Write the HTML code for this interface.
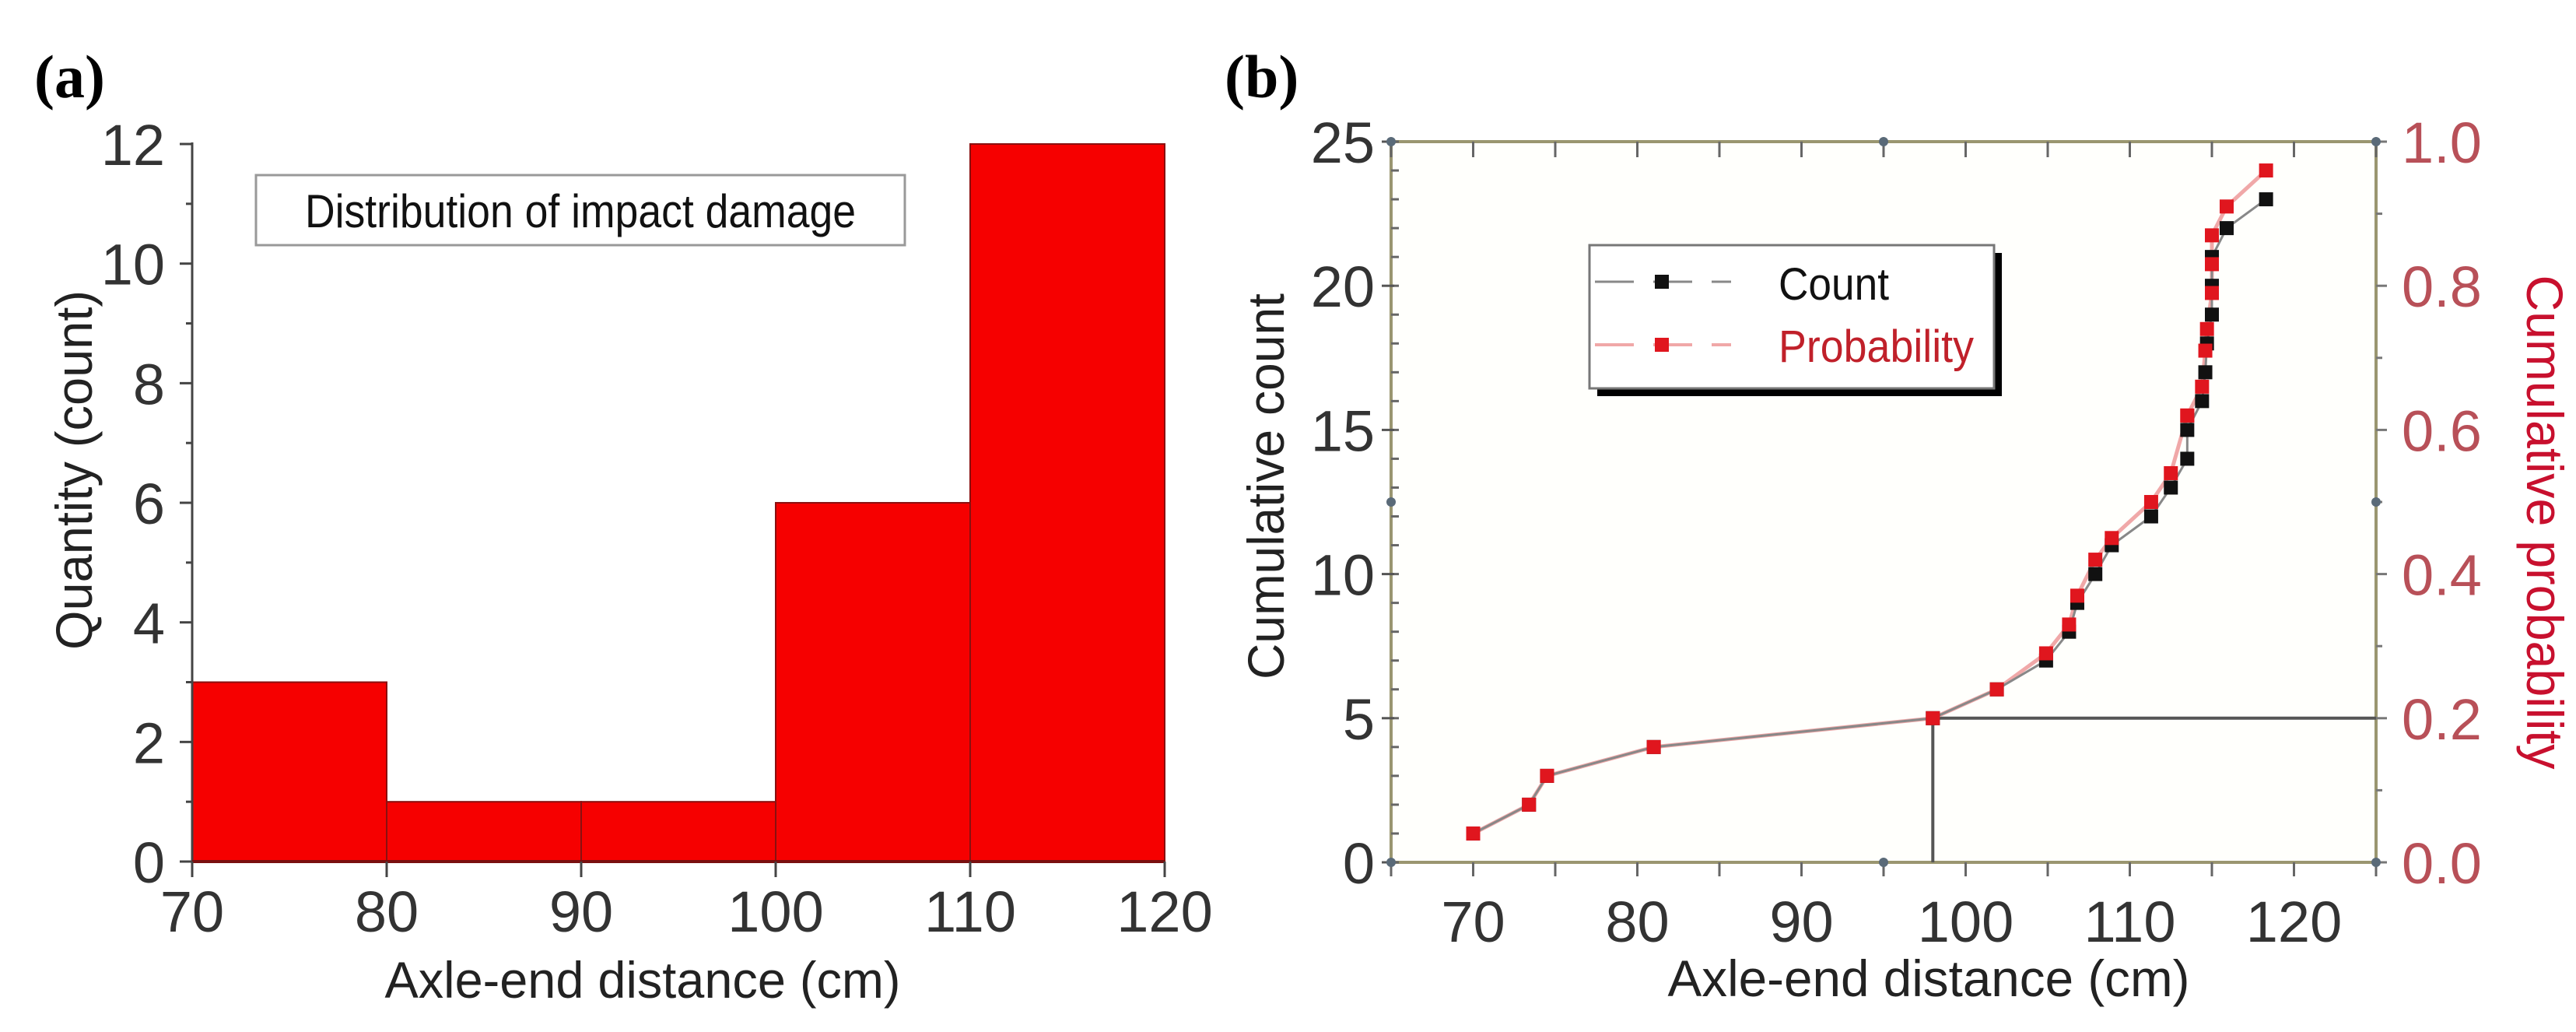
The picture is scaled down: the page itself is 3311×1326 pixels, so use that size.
<!DOCTYPE html>
<html><head><meta charset="utf-8"><style>
html,body{margin:0;padding:0;background:#fff;}
svg{display:block;}
text{font-family:"Liberation Sans",Arial,sans-serif;}
</style></head><body>
<svg id="fig" width="3311" height="1326" viewBox="0 0 3311 1326" xmlns="http://www.w3.org/2000/svg">
<text x="44" y="125" style="font-family:'Liberation Serif',serif" font-weight="bold" font-size="78">(a)</text>
<text x="1574" y="125" style="font-family:'Liberation Serif',serif" font-weight="bold" font-size="78">(b)</text>
<g id="ga"></g>
<g id="gb"></g>
</svg>
<script>
// ---------- Chart A data ----------
const binStarts = [70, 80, 90, 100, 110];
const binCounts = [3, 1, 1, 6, 12];
const aXTicks = [70, 80, 90, 100, 110, 120];
const aYTicks = [0, 2, 4, 6, 8, 10, 12];
// ---------- Chart B data ----------
const distances = [70.0, 73.4, 74.5, 81.0, 98.0, 101.9, 104.9, 106.3, 106.8, 107.9, 108.9, 111.3, 112.5, 113.5, 113.5, 114.4, 114.6, 114.7, 115.0, 115.0, 115.0, 115.9, 118.3];
const cumCounts = [1, 2, 3, 4, 5, 6, 7, 8, 9, 10, 11, 12, 13, 14, 15, 16, 17, 18, 19, 20, 21, 22, 23];
const cumProb = [0.04, 0.08, 0.12, 0.16, 0.20, 0.24, 0.29, 0.33, 0.37, 0.42, 0.45, 0.50, 0.54, 0.62, 0.62, 0.66, 0.71, 0.74, 0.79, 0.83, 0.87, 0.91, 0.96];
const bXTicks = [70, 80, 90, 100, 110, 120];
const bYTicks = [0, 5, 10, 15, 20, 25];
const bRTicks = ["0.0", "0.2", "0.4", "0.6", "0.8", "1.0"];
const refX = 98, refY = 5;

const NS = "http://www.w3.org/2000/svg";
function mk(parent, tag, attrs, txt) {
  const e = document.createElementNS(NS, tag);
  for (const k in attrs) e.setAttribute(k, attrs[k]);
  if (txt !== undefined) e.textContent = txt;
  parent.appendChild(e);
  return e;
}

// ===== Chart A =====
const ga = document.getElementById('ga');
const axX = v => 247 + (v - 70) * 25.0;
const ayY = v => 1107 - (v) * 76.83;
for (let i = 0; i < binStarts.length; i++) {
  const r = mk(ga, 'rect', {x: axX(binStarts[i]), y: ayY(binCounts[i]), width: axX(binStarts[i] + 10) - axX(binStarts[i]), height: ayY(0) - ayY(binCounts[i]), fill: '#f60000', stroke: '#8a1010', 'stroke-width': 2});
  
  
}
mk(ga, 'line', {x1: 247, y1: ayY(12) - 2, x2: 247, y2: ayY(0), stroke: '#444', 'stroke-width': 3});
mk(ga, 'line', {x1: 247, y1: ayY(0), x2: axX(120), y2: ayY(0), stroke: '#7a1010', 'stroke-width': 4});
for (let v = 0; v <= 12; v++) {
  mk(ga, 'line', {x1: 247, y1: ayY(v), x2: v % 2 === 0 ? 231 : 239, y2: ayY(v), stroke: '#444', 'stroke-width': 3});
}
aYTicks.forEach(v => {
  const t = mk(ga, 'text', {x: 212, y: ayY(v) + 27, 'text-anchor': 'end', 'font-size': 74, fill: '#333'}, v);
  
  
});
aXTicks.forEach(v => {
  mk(ga, 'line', {x1: axX(v), y1: ayY(0), x2: axX(v), y2: ayY(0) + 20, stroke: '#444', 'stroke-width': 3});
  const t = mk(ga, 'text', {x: axX(v), y: 1197, 'text-anchor': 'middle', 'font-size': 74, fill: '#333'}, v);
  
  
});
let t;
t = mk(ga, 'text', {x: 826, y: 1282, 'text-anchor': 'middle', 'font-size': 66, fill: '#222', textLength: 663, lengthAdjust: 'spacingAndGlyphs'}, 'Axle-end distance (cm)');


t = mk(ga, 'text', {x: 0, y: 0, transform: 'translate(118,604) rotate(-90)', 'text-anchor': 'middle', 'font-size': 66, fill: '#222', textLength: 462, lengthAdjust: 'spacingAndGlyphs'}, 'Quantity (count)');


const lb = mk(ga, 'rect', {x: 329, y: 225, width: 834, height: 90, fill: '#fff', stroke: '#999', 'stroke-width': 3});


t = mk(ga, 'text', {x: 746, y: 292, 'text-anchor': 'middle', 'font-size': 60, fill: '#111', textLength: 708, lengthAdjust: 'spacingAndGlyphs'}, 'Distribution of impact damage');



// ===== Chart B =====
const gb = document.getElementById('gb');
const bX = v => 1788 + (v - 65) * 21.1;
const bY = v => 1108 - v * 37.04;
const bYP = p => 1108 - p * 926;
const L = 1788, R = 3054, T = 182, B = 1108;
mk(gb, 'rect', {x: L, y: T, width: R - L, height: B - T, fill: '#fffffc', stroke: '#9a9670', 'stroke-width': 4});
for (let v = 0; v <= 25; v++) mk(gb, 'line', {x1: L, y1: bY(v), x2: L + 10, y2: bY(v), stroke: '#666', 'stroke-width': 3});
for (let v = 0; v <= 25; v += 5) mk(gb, 'line', {x1: L - 12, y1: bY(v), x2: L + 4, y2: bY(v), stroke: '#555', 'stroke-width': 3});
for (let v = 65; v <= 125; v += 5) {
  mk(gb, 'line', {x1: bX(v), y1: T, x2: bX(v), y2: T + 20, stroke: '#666', 'stroke-width': 3});
  mk(gb, 'line', {x1: bX(v), y1: B, x2: bX(v), y2: B + 18, stroke: '#666', 'stroke-width': 3});
}
for (let p = 0; p <= 10; p++) mk(gb, 'line', {x1: R, y1: bYP(p / 10), x2: R + (p % 2 === 0 ? 14 : 8), y2: bYP(p / 10), stroke: '#777', 'stroke-width': 3});
[[L, T], [R, T], [L, B], [R, B], [bX(95), T], [bX(95), B], [L, bY(12.5)], [R, bY(12.5)]].forEach(p => mk(gb, 'circle', {cx: p[0], cy: p[1], r: 6, fill: '#5a6a78'}));
bYTicks.forEach(v => {
  const e = mk(gb, 'text', {x: 1767, y: bY(v) + 27, 'text-anchor': 'end', 'font-size': 74, fill: '#333'}, v);
  
  
});
bRTicks.forEach((s, i) => {
  const e = mk(gb, 'text', {x: 3087, y: bYP(i * 0.2) + 27, 'font-size': 74, fill: '#b85058'}, s);
  
  
});
bXTicks.forEach(v => {
  const e = mk(gb, 'text', {x: bX(v), y: 1210, 'text-anchor': 'middle', 'font-size': 74, fill: '#333'}, v);
  
  
});
mk(gb, 'line', {x1: bX(refX), y1: bY(refY), x2: R, y2: bY(refY), stroke: '#555', 'stroke-width': 4});
mk(gb, 'line', {x1: bX(refX), y1: bY(refY), x2: bX(refX), y2: B, stroke: '#555', 'stroke-width': 4});
mk(gb, 'polyline', {points: distances.map((d, i) => bX(d) + ',' + bYP(cumProb[i])).join(' '), fill: 'none', stroke: '#f0a8a8', 'stroke-width': 5});
mk(gb, 'polyline', {points: distances.map((d, i) => bX(d) + ',' + bY(cumCounts[i])).join(' '), fill: 'none', stroke: '#888', 'stroke-width': 3});
distances.forEach((d, i) => {
  const m = mk(gb, 'rect', {x: bX(d) - 9, y: bY(cumCounts[i]) - 9, width: 18, height: 18, fill: '#111'});
  
  
});
distances.forEach((d, i) => {
  const m = mk(gb, 'rect', {x: bX(d) - 9, y: bYP(cumProb[i]) - 9, width: 18, height: 18, fill: '#e0161e'});
  
  
});
mk(gb, 'rect', {x: 2053, y: 325, width: 520, height: 184, fill: '#000'});
const lg = mk(gb, 'rect', {x: 2043, y: 315, width: 520, height: 184, fill: '#fff', stroke: '#777', 'stroke-width': 3});


mk(gb, 'line', {x1: 2050, y1: 362, x2: 2225, y2: 362, stroke: '#888', 'stroke-width': 3, 'stroke-dasharray': '50,25'});
mk(gb, 'rect', {x: 2127, y: 353, width: 18, height: 18, fill: '#111'});
mk(gb, 'line', {x1: 2050, y1: 443, x2: 2225, y2: 443, stroke: '#f0a8a8', 'stroke-width': 4, 'stroke-dasharray': '50,25'});
mk(gb, 'rect', {x: 2127, y: 434, width: 18, height: 18, fill: '#e0161e'});
t = mk(gb, 'text', {x: 2286, y: 385, 'font-size': 58, fill: '#111', textLength: 142, lengthAdjust: 'spacingAndGlyphs'}, 'Count');


t = mk(gb, 'text', {x: 2286, y: 465, 'font-size': 58, fill: '#c0202a', textLength: 251, lengthAdjust: 'spacingAndGlyphs'}, 'Probability');


t = mk(gb, 'text', {x: 2479, y: 1280, 'text-anchor': 'middle', 'font-size': 66, fill: '#222', textLength: 671, lengthAdjust: 'spacingAndGlyphs'}, 'Axle-end distance (cm)');


t = mk(gb, 'text', {x: 0, y: 0, transform: 'translate(1650,625) rotate(-90)', 'text-anchor': 'middle', 'font-size': 66, fill: '#222', textLength: 496, lengthAdjust: 'spacingAndGlyphs'}, 'Cumulative count');


t = mk(gb, 'text', {x: 0, y: 0, transform: 'translate(3248,671) rotate(90)', 'text-anchor': 'middle', 'font-size': 66, fill: '#c8102e', textLength: 635, lengthAdjust: 'spacingAndGlyphs'}, 'Cumulative probability');


</script>
</body></html>
